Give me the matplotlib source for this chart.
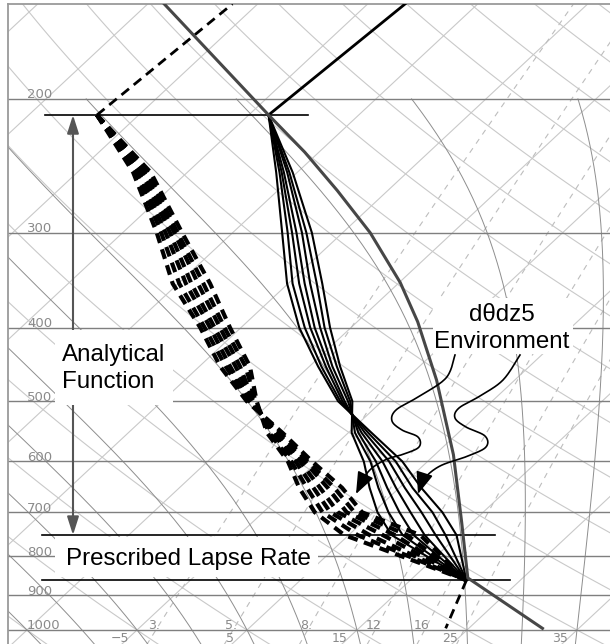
import numpy as np
import matplotlib.pyplot as plt
import matplotlib.transforms as mtransforms
from matplotlib.patches import Rectangle

W, H = 610, 644
SKEW = 32.14         # degC shift per ln(1000/p), NCL-style skew-T
P_BOT, P_TOP = 1050.0, 150.0

# ---- background grid values ----
isobars = [200, 300, 400, 500, 600, 700, 800, 900, 1000]
isotherms = list(range(-105, 55, 10))
isotherm_labels = [-5, 5, 15, 25, 35]
dry_theta = list(range(-35, 185, 10))
moist_tw = list(range(-20, 45, 5))
mix_ratio = [3, 5, 8, 12, 16, 20]
mix_labels = ['3.', '5.', '8.', '12', '16']
mix_label_at = [-3.5, 3.5, 10.4, 16.5, 20.9]   # degC at 1000 hPa

# ---- soundings (hPa, degC) ----
lev = [210, 250, 300, 350, 400, 450, 500, 550, 600, 650, 700, 750, 860]
env_t = [
    [-43.2] * 7,
    [-36.9, -36.6, -36.4, -36.2, -35.9, -35.7, -35.4],
    [-30.5, -30.0, -29.6, -29.2, -28.7, -28.3, -27.8],
    [-25.1, -24.6, -24.0, -23.5, -23.0, -22.4, -21.9],
    [-19.7, -19.2, -18.7, -18.3, -17.8, -17.4, -16.9],
    [-14.2, -13.9, -13.5, -13.2, -12.9, -12.5, -12.2],
    [-9.0, -8.8, -8.6, -8.4, -8.1, -7.9, -7.7],
    [-2.9, -3.2, -3.5, -3.8, -4.1, -4.4, -4.7],
    [2.7, 2.1, 1.5, 0.9, 0.3, -0.2, -0.8],
    [7.0, 6.2, 5.5, 4.7, 3.9, 3.1, 2.3],
    [11.3, 10.4, 9.4, 8.4, 7.4, 6.4, 5.4],
    [14.8, 13.8, 12.9, 11.9, 10.9, 9.9, 8.9],
    [20.1] * 7,
]
env_td = [
    [-58.8] * 7,
    [-49.9, -49.6, -49.4, -49.1, -48.9, -48.6, -48.3],
    [-41.9, -41.5, -41.1, -40.7, -40.3, -40.0, -39.6],
    [-35.5, -34.9, -34.3, -33.8, -33.2, -32.7, -32.1],
    [-28.7, -28.3, -27.8, -27.4, -26.9, -26.5, -26.0],
    [-23.1, -22.6, -22.2, -21.7, -21.3, -20.8, -20.4],
    [-17.3, -17.1, -17.0, -16.8, -16.7, -16.5, -16.4],
    [-11.0, -11.2, -11.5, -11.7, -11.9, -12.2, -12.4],
    [-5.5, -5.9, -6.2, -6.6, -7.0, -7.4, -7.7],
    [-0.2, -0.9, -1.5, -2.2, -2.8, -3.4, -4.1],
    [4.0, 3.3, 2.6, 1.8, 1.1, 0.4, -0.3],
    [11.5, 10.3, 9.2, 8.1, 6.9, 5.8, 4.6],
    [20.1] * 7,
]
strat_p = [210, 150]
strat_t = [-43.2, -41.6]
strat_td = [-58.8, -57.3]
parcel_p = [995, 854, 721, 588, 469, 393, 349, 300, 264, 235, 210, 150]
parcel_t = [31.7, 20.0, 14.0, 6.7, -2.1, -9.5, -14.9, -22.5, -29.6, -36.3, -43.2, -63.5]
sfc_p = [860, 995]
sfc_td = [20.1, 22.9]
levels_marked = [210, 750, 860]

# ---- thermodynamics for the diagram lines ----
Rd, cp, Lv, eps = 287.04, 1005.7, 2.501e6, 0.622


def skx(t, p):
    return np.asarray(t, float) + SKEW * np.log(1000.0 / np.asarray(p, float))


def ypix(p):
    return 630 - 330 * np.log(1000.0 / p)


def rsat(tk, p):
    es = 6.112 * np.exp(17.67 * (tk - 273.15) / (tk - 29.65))
    return eps * es / (p - es)


def dtdlnp(tk, p):
    rs = rsat(tk, p)
    return (Rd * tk + Lv * rs) / (cp + Lv * Lv * rs * eps / (Rd * tk * tk))


def moist_line(tw, p_end, n=150):
    lnp = np.linspace(np.log(1000.0), np.log(p_end), n)
    t = np.empty(n)
    t[0] = tw + 273.15
    for i in range(n - 1):
        h = lnp[i + 1] - lnp[i]
        p0, p1 = np.exp(lnp[i]), np.exp(lnp[i + 1])
        pm = np.exp(0.5 * (lnp[i] + lnp[i + 1]))
        k1 = dtdlnp(t[i], p0)
        k2 = dtdlnp(t[i] + 0.5 * h * k1, pm)
        k3 = dtdlnp(t[i] + 0.5 * h * k2, pm)
        k4 = dtdlnp(t[i] + h * k3, p1)
        t[i + 1] = t[i] + h * (k1 + 2 * k2 + 2 * k3 + k4) / 6
    return np.exp(lnp), t - 273.15


def dewpoint_from_r(r, p):
    e = r / 1000.0 * p / (eps + r / 1000.0)
    g = np.log(e / 6.112)
    return 243.5 * g / (17.67 - g)


fig = plt.figure(figsize=(W / 100, H / 100), dpi=100)
ax = fig.add_axes([8 / W, (H - 646.1) / H, 612 / W, 642.15 / H])
ax.set_yscale('log')
ax.set_ylim(P_BOT, P_TOP)
ax.set_xlim(-16.73, 38.91)
ax.set_xticks([])
ax.set_yticks([])
ax.minorticks_off()
for sp in ax.spines.values():
    sp.set_color('#9a9a9a')
    sp.set_linewidth(1.3)

PIX = mtransforms.Affine2D().scale(1 / W, -1 / H).translate(0, 1) + fig.transFigure

pp = np.geomspace(P_BOT, P_TOP, 120)
light = '#c9c9c9'
for t in isotherms:
    ax.plot(skx([t, t], [P_BOT, P_TOP]), [P_BOT, P_TOP], color=light, lw=0.8, zorder=1)
for th in dry_theta:
    tt = (th + 273.15) * (pp / 1000.0) ** (Rd / cp) - 273.15
    ax.plot(skx(tt, pp), pp, color=light, lw=0.8, zorder=1)
for r in mix_ratio:
    td = dewpoint_from_r(r, pp)
    ax.plot(skx(td, pp), pp, color='#bdbdbd', lw=0.8, ls=(0, (5, 5)), zorder=1)
for tw in moist_tw:
    pu, tu = moist_line(tw, 200.0)
    pd, tdn = moist_line(tw, P_BOT, n=10)
    ax.plot(skx(np.r_[tdn[::-1], tu], np.r_[pd[::-1], pu]), np.r_[pd[::-1], pu],
            color='#8e8e8e', lw=0.7, zorder=1.2)
for p in isobars:
    ax.axhline(p, color='#7f7f7f', lw=1.0, zorder=1.5)

lab = dict(fontsize=9.5, color='#8a8a8a', family='DejaVu Sans', zorder=2.5)
for p in isobars:
    ax.text(27, ypix(p) - 0.5, str(p), transform=PIX, ha='left', va='baseline', **lab)
small = dict(lab, fontsize=9)
p_lab = 1000.0 * np.exp(12.0 / 330)
for t in isotherm_labels:
    ax.text(skx(t, P_BOT), p_lab, str(t).replace('-', '\u2212'), ha='center',
            va='baseline', **small)
for t, s in zip(mix_label_at, mix_labels):
    ax.text(skx(t, 1000.0), 998.0, s, ha='center', va='baseline', **small)

# white boxes under the annotations
for (x0, y0, w, h) in [(55, 330, 118, 75), (55, 537, 263, 40), (433, 298, 140, 56)]:
    ax.add_patch(Rectangle((x0, y0), w, h, transform=PIX, fc='white', ec='none', zorder=2))

# marked levels
spans = {210: (45, 308), 750: (42, 495), 860: (42, 510)}
for p in levels_marked:
    x0, x1 = spans[p]
    ax.plot([x0, x1], [ypix(p), ypix(p)], transform=PIX, color='k', lw=1.2, zorder=3)

# vertical double arrow
ax.annotate('', xy=(73, ypix(210)), xycoords=PIX, xytext=(73, ypix(750)), textcoords=PIX,
            arrowprops=dict(arrowstyle='<|-|>,head_length=1.1,head_width=0.35',
                            color='#555555', lw=1.5, shrinkA=0, shrinkB=0,
                            mutation_scale=10), zorder=1.8)

# soundings
lev_a = np.array(lev, float)
et = np.array(env_t)
etd = np.array(env_td)
for i in range(et.shape[1]):
    ax.plot(skx(et[:, i], lev_a), lev_a, color='k', lw=1.5, zorder=4,
            solid_joinstyle='round')
    ax.plot(skx(etd[:, i], lev_a), lev_a, color='k', lw=3.0, zorder=4,
            ls=(0, (2.4, 1.6)), dash_capstyle='butt')
ax.plot(skx(strat_t, strat_p), strat_p, color='k', lw=2.0, zorder=4)
ax.plot(skx(strat_td, strat_p), strat_p, color='k', lw=2.0, ls=(0, (3.5, 2.2)), zorder=4)
ax.plot(skx(sfc_td, sfc_p), sfc_p, color='k', lw=2.0, ls=(0, (3.5, 2.2)), zorder=4)
ax.plot(skx(parcel_t, parcel_p), parcel_p, color='#474747', lw=2.2, zorder=4.5)


# wavy pointers
def catmull(pts, n=16):
    pts = np.asarray(pts, float)
    ext = np.vstack([pts[0], pts, pts[-1]])
    out = []
    for i in range(1, len(ext) - 2):
        p0, p1, p2, p3 = ext[i - 1], ext[i], ext[i + 1], ext[i + 2]
        for s in np.linspace(0, 1, n, endpoint=False):
            out.append(0.5 * ((2 * p1) + (-p0 + p2) * s + (2 * p0 - 5 * p1 + 4 * p2 - p3) * s * s
                              + (-p0 + 3 * p1 - 3 * p2 + p3) * s ** 3))
    out.append(pts[-1])
    return np.array(out)


wave_a = [(455, 355), (446, 378), (418, 397), (396, 410), (392, 421), (402, 430), (418, 437),
          (419, 447), (404, 454), (385, 460), (368, 472), (356, 494)]
wave_b = [(520, 355), (503, 380), (480, 396), (459, 408), (455, 418), (466, 427), (485, 436),
          (486, 447), (468, 456), (440, 466), (424, 479), (418, 494)]
for w in (wave_a, wave_b):
    c = catmull(w)
    ax.plot(c[:-6, 0], c[:-6, 1], transform=PIX, color='k', lw=1.2, zorder=5)
    ax.annotate('', xy=tuple(c[-1]), xycoords=PIX, xytext=tuple(c[-12]), textcoords=PIX,
                arrowprops=dict(arrowstyle='-|>,head_length=0.9,head_width=0.35',
                                color='k', lw=1.2, shrinkA=0, shrinkB=0, mutation_scale=15),
                zorder=5)

big = dict(fontsize=17.4, family='Liberation Sans', color='k', zorder=6)
ax.text(62, 361, 'Analytical', transform=PIX, ha='left', va='baseline', **big)
ax.text(62, 388, 'Function', transform=PIX, ha='left', va='baseline', **big)
ax.text(66, 565, 'Prescribed Lapse Rate', transform=PIX, ha='left', va='baseline', **big)
ax.text(502, 321, 'd\u03b8dz5', transform=PIX, ha='center', va='baseline', **big)
ax.text(502, 348, 'Environment', transform=PIX, ha='center', va='baseline', **big)

fig.savefig('out.png', dpi=100)
